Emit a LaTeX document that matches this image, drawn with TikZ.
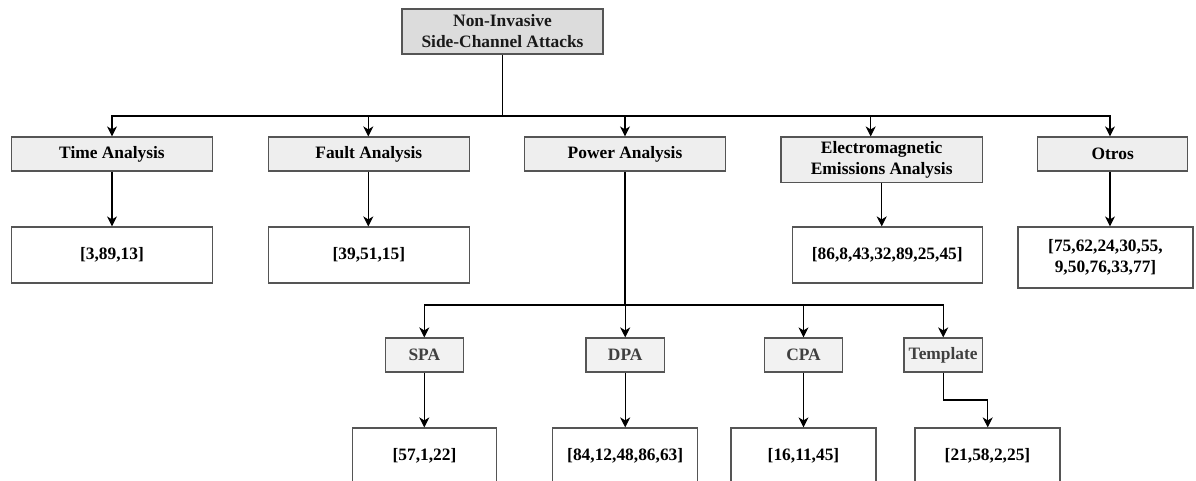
\documentclass[tikz,border=0pt]{standalone}
\usepackage{fontspec}
\setmainfont{Liberation Serif}
\usetikzlibrary{arrows.meta}
\definecolor{topfill}{HTML}{DCDCDC}
\definecolor{boxfill}{HTML}{EEEEEE}
\definecolor{subfill}{HTML}{F2F2F2}
\definecolor{boxline}{HTML}{555555}
\definecolor{subtext}{HTML}{404040}
\tikzset{
  base/.style={draw=boxline, line width=1.2pt, inner sep=0pt, align=center,
    font=\fontsize{17.4}{21}\selectfont\bfseries},
  topbox/.style={base, fill=topfill, text=black!90},
  catbox/.style={base, fill=boxfill, text=black, minimum height=34pt},
  resbox/.style={base, fill=white, text=black, minimum height=56pt},
  subbox/.style={base, fill=subfill, text=subtext, minimum width=78.3pt, minimum height=34pt},
  conn/.style={line width=1.2pt, draw=black},
  arr/.style={conn, -{Stealth[length=10pt, width=10pt, inset=3pt]}},
}
\begin{document}
\begin{tikzpicture}[x=1pt, y=-1pt]
\useasboundingbox (0,0) rectangle (1196,481);
\clip (0,0) rectangle (1196,481);
% top
\node[topbox, minimum width=201pt, minimum height=45pt] (top) at (502.5,31.5) {Non-Invasive\\Side-Channel Attacks};
% level 1
\node[catbox, minimum width=200.6pt] (time) at (112,154) {Time Analysis};
\node[catbox, minimum width=201pt] (fault) at (368.8,154) {Fault Analysis};
\node[catbox, minimum width=201.4pt] (power) at (625,154) {Power Analysis};
\node[catbox, minimum width=201.3pt, minimum height=45.3pt] (em) at (881.7,159.7) {Electromagnetic\\Emissions Analysis};
\node[catbox, minimum width=150pt] (otros) at (1112.7,154) {Otros};
% results level 1
\node[resbox, minimum width=200.6pt] (timer) at (112,255) {[3,89,13]};
\node[resbox, minimum width=201pt] (faultr) at (368.8,255) {[39,51,15]};
\node[resbox, minimum width=190pt] (emr) at (887.3,255) {[86,8,43,32,89,25,45]};
\node[resbox, minimum width=175pt, minimum height=61pt] (otrosr) at (1105.5,257.5) {[75,62,24,30,55,\\9,50,76,33,77]};
% sub level
\node[subbox] (spa) at (424.3,355) {SPA};
\node[subbox] (dpa) at (625.2,355) {DPA};
\node[subbox] (cpa) at (803.5,355) {CPA};
\node[subbox] (tmpl) at (943.2,355) {Template};
% results sub level
\node[resbox, minimum width=144.4pt] (spar) at (424.5,456) {[57,1,22]};
\node[resbox, minimum width=145pt] (dpar) at (625.2,456) {[84,12,48,86,63]};
\node[resbox, minimum width=145pt] (cpar) at (803.5,456) {[16,11,45]};
\node[resbox, minimum width=145pt] (tmplr) at (987.5,456) {[21,58,2,25]};
% connectors from top
\coordinate (j1) at (502.5,116);
\draw[conn] (top.south) -- (j1);
\draw[arr] (j1) -| (time.north);
\draw[arr] (j1) -| ([xshift=-0.5pt]fault.north);
\draw[arr] (j1) -| (power.north);
\draw[arr] (j1) -| ([xshift=-11pt]em.north);
\draw[arr] (j1) -| ([xshift=-2.7pt]otros.north);
% level 1 to results
\draw[arr] (time.south) -- (timer.north);
\draw[arr] ([xshift=-0.5pt]fault.south) -- ([xshift=-0.5pt]faultr.north);
\draw[arr] ([xshift=-5.6pt]emr.north |- em.south) -- ([xshift=-5.6pt]emr.north);
\draw[arr] ([xshift=-2.7pt]otros.south) -- ([xshift=4.5pt]otrosr.north);
% power to sub
\coordinate (j2) at (625,305);
\draw[conn] (power.south) -- (j2);
\draw[arr] (j2) -| (spa.north);
\draw[arr] (j2) -| (dpa.north);
\draw[arr] (j2) -| (cpa.north);
\draw[arr] (j2) -| (tmpl.north);
% sub to results
\draw[arr] (spa.south) -- (spar.north -| spa.south);
\draw[arr] (dpa.south) -- (dpar.north);
\draw[arr] (cpa.south) -- (cpar.north);
\draw[arr] (tmpl.south) |- (987.7,400) -- ([xshift=0.2pt]tmplr.north);
\end{tikzpicture}
\end{document}
